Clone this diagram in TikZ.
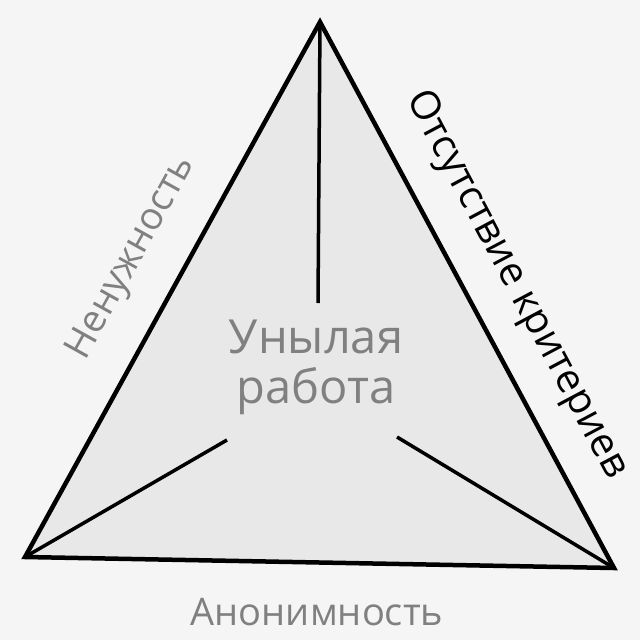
\documentclass[tikz,border=0pt]{standalone}
\usepackage{fontspec}
\setmainfont{Open Sans}
\begin{document}
\begin{tikzpicture}[x=1pt,y=-1pt,
  edge/.style={line width=4.5pt, line join=miter},
  spoke/.style={line width=3.5pt},
  graylab/.style={text=black!50, inner sep=0pt},
  blacklab/.style={text=black, inner sep=0pt}]
\fill[black!4] (0,0) rectangle (640,640);
\useasboundingbox (0,0) rectangle (640,640);
\coordinate (T) at (320,22);
\coordinate (L) at (25,557);
\coordinate (R) at (614,568);
\coordinate (Te) at (318,303);
\coordinate (Le) at (227,440);
\coordinate (Re) at (397,437);
\fill[black!9] (T) -- (L) -- (R) -- cycle;
\draw[edge] (T) -- (L) -- (R) -- cycle;
\draw[spoke] (T) -- (Te);
\draw[spoke] (L) -- (Le);
\draw[spoke] (R) -- (Re);
\node[graylab, align=center, font=\fontsize{47}{50}\selectfont] (c) at (316,367) {Унылая\\работа};
\node[graylab, rotate=61, font=\fontsize{38}{40}\selectfont] (l) at (132,258) {Ненужность};
\node[blacklab, rotate=-62, font=\fontsize{40}{42}\selectfont] (r) at (516,285) {Отсутствие критериев};
\node[graylab, font=\fontsize{38}{40}\selectfont] (b) at (317,612) {Анонимность};
\end{tikzpicture}
\end{document}
